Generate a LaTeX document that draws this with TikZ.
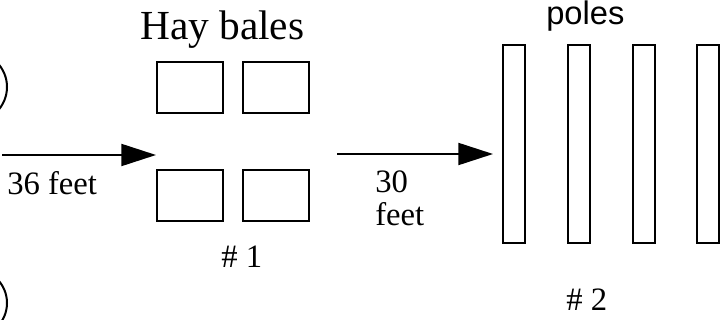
\documentclass[tikz,border=0pt]{standalone}
\usepackage{fontspec}
\setmainfont{Liberation Serif}
\newfontfamily\polesfont{Liberation Sans}
\usetikzlibrary{arrows.meta}
\begin{document}
\begin{tikzpicture}[x=0.75pt,y=-0.75pt,
  outline/.style={draw=black,line width=1.5pt},
  bale/.style={outline,rectangle,inner sep=0pt,minimum width=49.5pt,minimum height=38.25pt},
  pole/.style={outline,rectangle,inner sep=0pt,minimum width=16.5pt,minimum height=148.5pt},
  label/.style={inner sep=0pt,anchor=base west,font=\fontsize{24.5}{29}\selectfont},
  bigarrow/.style={line width=1.5pt,-{Triangle[length=26pt,width=16.5pt]}}]
  \useasboundingbox (0,0) rectangle (723,320);
  \clip (0,0) rectangle (723,320);

  % partial circles cut by the left edge
  \draw[outline] (-28,87) circle[radius=35];
  \draw[outline] (-27,303) circle[radius=34];

  % title and hay bales (station 1)
  \node[label,font=\fontsize{31}{36}\selectfont] (title) at (140,40) {Hay bales};
  \node[bale] (b1) at (190,87.5) {};
  \node[bale] (b2) at (276,87.5) {};
  \node[bale] (b3) at (190,195.5) {};
  \node[bale] (b4) at (276,195.5) {};
  \node[label] (n1) at (221,267) {\# 1};

  % poles (station 2)
  \node[label,font=\polesfont\fontsize{24.5}{29}\selectfont] (plabel) at (546,25) {poles};
  \node[pole] (p1) at (514,144) {};
  \node[pole] (p2) at (578.5,144) {};
  \node[pole] (p3) at (643.5,144) {};
  \node[pole] (p4) at (708,144) {};
  \node[label] (n2) at (566,310) {\# 2};

  % distance arrows
  \coordinate (a1s) at (2,155);
  \coordinate (a1e) at (b1.west |- a1s);
  \draw[bigarrow] (a1s) -- (a1e);
  \node[label] (d1) at (7,195) {36 feet};

  \coordinate (a2s) at (337,154);
  \coordinate (a2e) at (493,154);
  \draw[bigarrow] (a2s) -- (a2e);
  \node[label] (d2a) at (375,192) {30};
  \node[label] (d2b) at (375,225) {feet};
\end{tikzpicture}
\end{document}
